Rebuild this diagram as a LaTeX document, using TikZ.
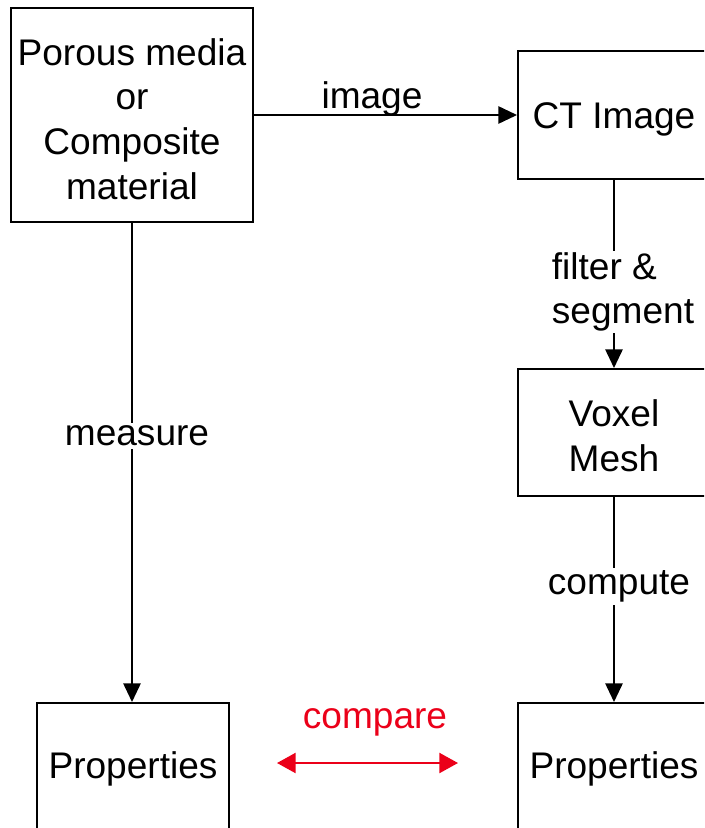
\documentclass[tikz,border=0pt]{standalone}
\usepackage{fontspec}
\setmainfont{Liberation Sans}
\usetikzlibrary{arrows.meta}
\definecolor{cmpred}{RGB}{235,0,25}
\begin{document}
\begin{tikzpicture}[x=0.75pt,y=-0.75pt,
  box/.style={draw,line width=1.5pt,inner sep=0pt},
  lbl/.style={font=\fontsize{27.8}{33.4}\selectfont,align=center,inner sep=2pt},
  conn/.style={line width=1.3pt,-{Triangle[length=14pt,width=13pt]}}]
\useasboundingbox (0,0) rectangle (704,828);
\clip (0,0) rectangle (704,828);
% boxes
\node[box,minimum width=242*0.75pt,minimum height=214*0.75pt] (src) at (132,115) {};
\node[lbl] (srct) at (132,119) {Porous media\\or\\Composite\\material};
\node[box,minimum width=192*0.75pt,minimum height=128*0.75pt] (ct) at (614,115) {};
\node[lbl] (ctt) at (614,119) {CT Image};
\node[box,minimum width=192*0.75pt,minimum height=127*0.75pt] (vox) at (614,432.5) {};
\node[lbl] (voxt) at (614,436) {Voxel\\Mesh};
\node[box,minimum width=192*0.75pt,minimum height=200*0.75pt,anchor=north] (pl) at (133,702) {};
\node[lbl] (plt) at (133,769) {Properties};
\node[box,minimum width=192*0.75pt,minimum height=200*0.75pt,anchor=north] (pr) at (614,702) {};
\node[lbl] (prt) at (614,769) {Properties};
% connectors
\draw[conn] (src.east |- ct.west) -- (ct.west);
\node[lbl] (imgl) at (372,99) {image};
\coordinate (srcb) at (src.south);
\draw[conn] (srcb) -- (srcb |- pl.north);
\node[lbl,fill=white] (meas) at (137,436) {measure};
\draw[conn] (ct.south) -- (ct.south |- vox.north);
\node[lbl,fill=white,align=left,inner sep=1pt] (filt) at (623,292) {filter \&\\segment};
\draw[conn] (vox.south) -- (vox.south |- pr.north);
\node[lbl,fill=white] (comp) at (619,586) {compute};
\coordinate (cl) at (277,763);
\coordinate (cr) at (458,763);
\draw[line width=1.7pt,cmpred,{Triangle[length=14pt,width=15pt]}-{Triangle[length=14pt,width=15pt]}] (cl) -- (cr);
\node[lbl,text=cmpred] (cmpl) at (375,722) {compare};
\end{tikzpicture}
\end{document}
